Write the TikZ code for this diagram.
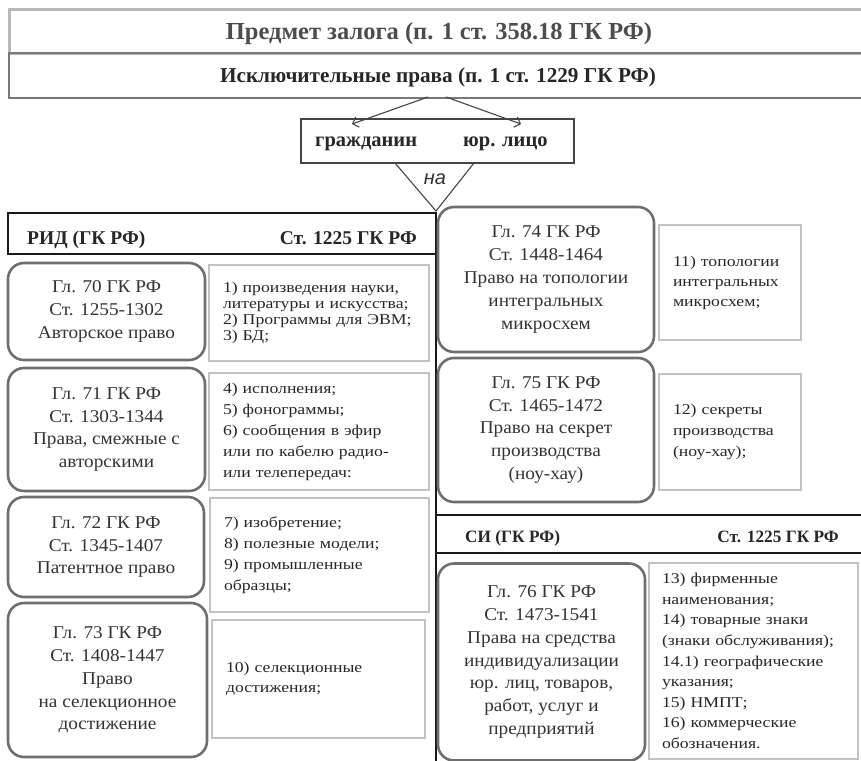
\documentclass[tikz,border=0pt]{standalone}
\usepackage{fontspec}
\setmainfont{Liberation Serif}
\newfontfamily\sansf{Liberation Sans}
\newfontfamily\rfont[FakeStretch=1.07]{Liberation Serif}
\newfontfamily\lfont[FakeStretch=1.18]{Liberation Serif}
\usetikzlibrary{arrows.meta}
\definecolor{txt}{HTML}{333333}
\definecolor{ltxt}{HTML}{262626}
\definecolor{rborder}{HTML}{6E6E6E}
\definecolor{lborder}{HTML}{C2C2C2}
\definecolor{topborder}{HTML}{B8B8B8}
\definecolor{secborder}{HTML}{787878}
\definecolor{lnk}{HTML}{444444}
\tikzset{
  rbox/.style={draw=rborder, line width=2.6pt, rounded corners=16pt, align=center, text=txt,
    font=\rfont\fontsize{18}{22.8}\selectfont, inner sep=0pt},
  lbox/.style={draw=lborder, line width=2.6pt, align=left, text=ltxt, inner xsep=14pt, inner ysep=0pt,
    font=\lfont\fontsize{15}{21}\selectfont},
  hbox/.style={draw=black!90, line width=2.6pt, inner sep=0pt},
  hdr/.style={font=\bfseries\fontsize{19.5}{22}\selectfont, text=black!85, inner sep=0pt},
  arr/.style={draw=lnk, line width=1.1pt, -{Straight Barb[length=5pt,width=11pt,line width=1.1pt]}},
  tri/.style={draw=lnk, line width=1.1pt},
}
\begin{document}
\begin{tikzpicture}[x=1pt,y=-1pt]
\useasboundingbox (0,0) rectangle (861,760);
% top boxes
\node[draw=topborder, line width=2.8pt, minimum width=870, minimum height=44, anchor=north west, inner sep=0pt] (t1) at (8,8) {};
\node[draw=secborder, line width=1.8pt, minimum width=870, minimum height=45, anchor=north west, inner sep=0pt] (t2) at (8,52) {};
\node[font=\bfseries\fontsize{24.5}{28}\selectfont, text=black!70, inner sep=0pt, anchor=base] (t1txt) at (439,40) {Предмет залога (п. 1 ст. 358.18 ГК РФ)};
\node[font=\bfseries\fontsize{21.2}{24}\selectfont, text=black!85, inner sep=0pt, anchor=base] (t2txt) at (438,82) {Исключительные права (п. 1 ст. 1229 ГК РФ)};
% citizen / legal entity
\node[draw=lnk, line width=1.2pt, minimum width=273, minimum height=44, inner sep=0pt] (gr) at (437.5,141) {};
\node[font=\bfseries\fontsize{20.5}{24}\selectfont, text=black!85, inner sep=0pt, anchor=base west] (grA) at (315,146) {гражданин};
\node[font=\bfseries\fontsize{20.5}{24}\selectfont, text=black!85, inner sep=0pt, anchor=base west] (grB) at (463,146) {юр. лицо};
\coordinate (a1s) at (428,97);
\coordinate (a1e) at (352,124);
\coordinate (a2s) at (446,97);
\coordinate (a2e) at (521,124);
\draw[arr] (a1s) -- (a1e);
\draw[arr] (a2s) -- (a2e);
\coordinate (trL) at (395,163);
\coordinate (trR) at (474,163);
\coordinate (apex) at (436,211);
\draw[tri] (trL) -- (apex) -- (trR);
\node[font=\sansf\itshape\fontsize{20}{22}\selectfont, text=txt, inner sep=0pt] (na) at (435,179) {на};
% RID header
\node[hbox, minimum width=428, minimum height=41] (rid) at (222,233.5) {};
\node[hdr, anchor=base west] (ridL) at (27,244) {РИД (ГК РФ)};
\node[hdr, anchor=base east] (ridR) at (417,244) {Ст. 1225 ГК РФ};
\coordinate (vtop) at (436,213);
\coordinate (vbot) at (436,775);
\draw[draw=black!90, line width=2.6pt] (vtop) -- (vbot);
% left column
\node[rbox, minimum width=197, minimum height=97] (b70) at (106.5,311.5) {Гл. 70 ГК РФ\\Ст. 1255-1302\\Авторское право};
\node[lbox, minimum width=220, minimum height=96, text width=192, font=\lfont\fontsize{15}{15.8}\selectfont] (l70) at (319,313) {1) произведения науки,\\литературы и искусства;\\2) Программы для ЭВМ;\\3) БД;};
\node[rbox, minimum width=197, minimum height=123] (b71) at (106.5,429.5) {Гл. 71 ГК РФ\\Ст. 1303-1344\\Права, смежные с\\авторскими};
\node[lbox, minimum width=220, minimum height=117, text width=192] (l71) at (319,431.5) {4) исполнения;\\5) фонограммы;\\6) сообщения в эфир\\или по кабелю радио-\\или телепередач:};
\node[rbox, minimum width=196, minimum height=100] (b72) at (106,547) {Гл. 72 ГК РФ\\Ст. 1345-1407\\Патентное право};
\node[lbox, minimum width=219, minimum height=114, text width=191] (l72) at (319.5,555) {7) изобретение;\\8) полезные модели;\\9) промышленные\\образцы;};
\node[rbox, minimum width=199, minimum height=154] (b73) at (107.5,680) {Гл. 73 ГК РФ\\Ст. 1408-1447\\Право\\на селекционное\\достижение};
\node[lbox, minimum width=213, minimum height=118, text width=185, font=\lfont\fontsize{15}{20}\selectfont] (l73) at (318.5,679) {10) селекционные\\достижения;};
% right column
\node[rbox, minimum width=216, minimum height=145] (b74) at (546,279.5) {Гл. 74 ГК РФ\\Ст. 1448-1464\\Право на топологии\\интегральных\\микросхем};
\node[lbox, minimum width=142, minimum height=115, text width=114, font=\lfont\fontsize{15}{20}\selectfont] (l74) at (730,282.5) {11) топологии\\интегральных\\микросхем;};
\node[rbox, minimum width=216, minimum height=144] (b75) at (546,430) {Гл. 75 ГК РФ\\Ст. 1465-1472\\Право на секрет\\производства\\(ноу-хау)};
\node[lbox, minimum width=142, minimum height=116, text width=114] (l75) at (730,432) {12) секреты\\производства\\(ноу-хау);};
% SI header
\coordinate (siTL) at (436,515);
\coordinate (siTR) at (875,515);
\coordinate (siBL) at (436,553);
\coordinate (siBR) at (875,553);
\draw[draw=black!90, line width=2.6pt] (siTL) -- (siTR);
\draw[draw=black!90, line width=2.6pt] (siBL) -- (siBR);
\node[hdr, font=\bfseries\fontsize{17.3}{20}\selectfont, anchor=base west] (siL) at (465,542) {СИ (ГК РФ)};
\node[hdr, font=\bfseries\fontsize{17.3}{20}\selectfont, anchor=base east] (siR) at (839,542) {Ст. 1225 ГК РФ};
\node[rbox, minimum width=207, minimum height=197] (b76) at (541.5,662) {Гл. 76 ГК РФ\\Ст. 1473-1541\\Права на средства\\индивидуализации\\юр. лиц, товаров,\\работ, услуг и\\предприятий};
\node[lbox, minimum width=209, minimum height=196, text width=183, inner xsep=13pt, font=\lfont\fontsize{15}{20.6}\selectfont] (l76) at (753.5,661) {13) фирменные\\наименования;\\14) товарные знаки\\(знаки обслуживания);\\14.1) географические\\указания;\\15) НМПТ;\\16) коммерческие\\обозначения.};
\end{tikzpicture}
\end{document}
